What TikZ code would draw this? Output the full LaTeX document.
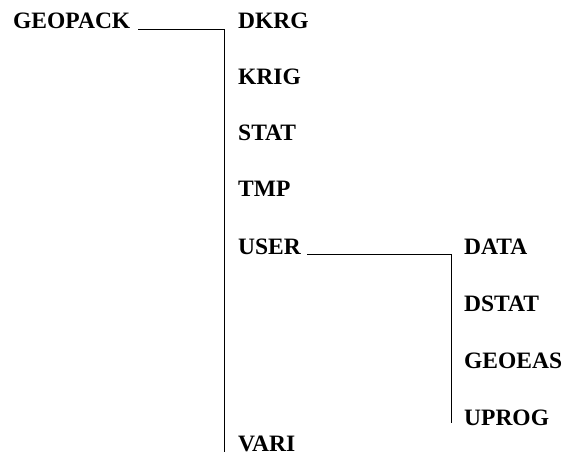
\documentclass[tikz,border=0pt]{standalone}
\usepackage{fontspec}
\setmainfont{Liberation Serif}
\begin{document}
\begin{tikzpicture}[x=1pt,y=-1pt,
  lbl/.style={anchor=base west,inner sep=0pt,text depth=0pt,font=\fontsize{23.5}{26}\selectfont\bfseries},
  conn/.style={line width=0.8pt,black}]
\useasboundingbox (0,0) rectangle (568,455);
\node[lbl] (geopack) at (13,28) {GEOPACK};
\node[lbl] (dkrg) at (238,28) {DKRG};
\node[lbl] (krig) at (238,84) {KRIG};
\node[lbl] (stat) at (238,140) {STAT};
\node[lbl] (tmp) at (238,196) {TMP};
\node[lbl] (user) at (238,254) {USER};
\node[lbl] (vari) at (238,451) {VARI};
\node[lbl] (data) at (464,254) {DATA};
\node[lbl] (dstat) at (464,311) {DSTAT};
\node[lbl] (geoeas) at (464,368) {GEOEAS};
\node[lbl] (uprog) at (464,425) {UPROG};
\coordinate (t1) at (224.5,29);
\coordinate (b1) at (224.5,452);
\coordinate (t2) at (451.5,254);
\coordinate (b2) at (451.5,423);
\draw[conn] ([xshift=8pt,yshift=-1pt]geopack.base east) -- (t1) -- (b1);
\draw[conn] ([xshift=6pt]user.base east) -- (t2) -- (b2);
\end{tikzpicture}
\end{document}
